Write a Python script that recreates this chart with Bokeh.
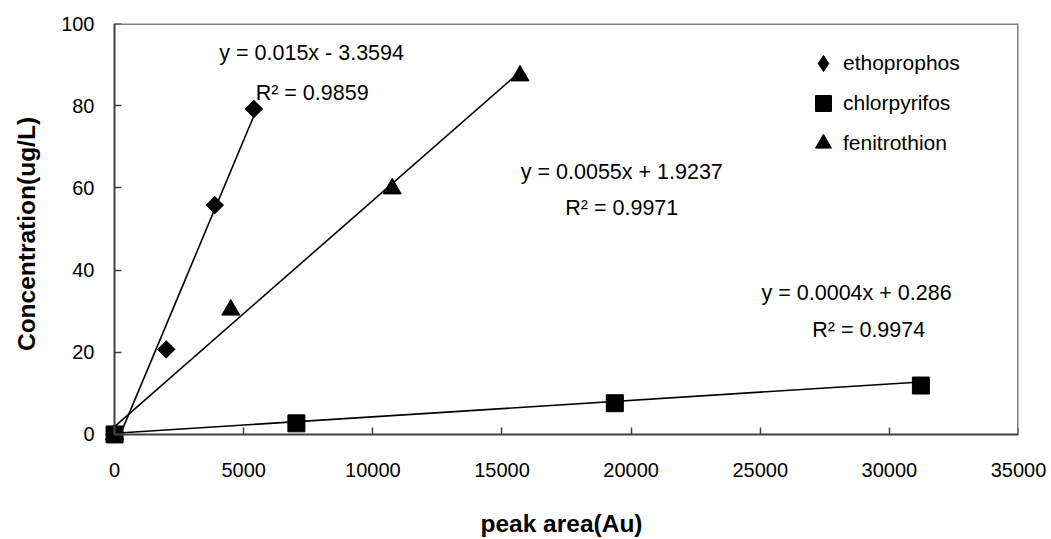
import numpy as np
from bokeh.plotting import figure
from bokeh.models import (Range1d, SingleIntervalTicker, Legend, LegendItem, ColumnDataSource,
                          LinearAxis, CustomJSTickFormatter)
from bokeh.core.properties import value
from bokeh.embed import file_html
from bokeh.resources import INLINE

# ---- data ----
series_names = ["ethoprophos", "chlorpyrifos", "fenitrothion"]
etho_x = [0, 2000, 3880, 5395]
etho_y = [0, 20.7, 55.8, 79.2]
chlor_x = [0, 7040, 19370, 31220]
chlor_y = [0, 2.7, 7.6, 11.9]
feni_x = [0, 4500, 10750, 15700]
feni_y = [0, 30.3, 59.8, 87.3]

# trendline equations shown on the chart (slope, intercept)
etho_fit = (0.015, -3.3594)
chlor_fit = (0.0004, 0.286)
feni_fit = (0.0055, 1.9237)

eq_texts = ["y = 0.015x - 3.3594", "R² = 0.9859",
            "y = 0.0055x + 1.9237", "R² = 0.9971",
            "y = 0.0004x + 0.286", "R² = 0.9974"]
eq_x = [7630, 7650, 19640, 19640, 28730, 29200]
eq_y = [92.7, 83.2, 63.8, 55.0, 34.3, 25.3]

# axis limits and ticks
X_MIN, X_MAX, X_STEP = 0, 35000, 5000
Y_MIN, Y_MAX, Y_STEP = 0, 100, 20
X_PAD, Y_PAD = 390, 2.45   # room so the markers at the origin are not cut

FONT = "Liberation Sans"
AXIS_COLOR = "#404040"

p = figure(width=1051, height=539, output_backend="svg", toolbar_location=None,
           x_range=Range1d(X_MIN - X_PAD, X_MAX), y_range=Range1d(Y_MIN - Y_PAD, Y_MAX),
           min_border_left=104, min_border_right=33, min_border_top=23, min_border_bottom=95)
p.xgrid.visible = False
p.ygrid.visible = False
p.outline_line_color = None
p.background_fill_color = "white"
p.border_fill_color = "white"

# label-carrying axes at the frame edges (no lines / ticks)
p.xaxis.ticker = SingleIntervalTicker(interval=X_STEP, num_minor_ticks=0)
p.yaxis.ticker = SingleIntervalTicker(interval=Y_STEP, num_minor_ticks=0)
for ax in (p.xaxis[0], p.yaxis[0]):
    ax.axis_line_color = None
    ax.major_tick_line_color = None
    ax.minor_tick_line_color = None
    ax.major_tick_in = 0
    ax.major_tick_out = 0
    ax.major_label_text_font = FONT
    ax.major_label_text_font_size = "20px"
    ax.major_label_text_color = "black"
    ax.axis_label_text_font = FONT
    ax.axis_label_text_font_style = "bold"
    ax.axis_label_text_font_size = "24.5px"
    ax.axis_label_text_color = "black"
p.xaxis.axis_label = "peak area(Au)"
p.yaxis.axis_label = "Concentration(ug/L)"
p.xaxis.major_label_standoff = 18
p.xaxis.axis_label_standoff = 30
p.yaxis.major_label_standoff = 10
p.yaxis.axis_label_standoff = 18

# axis lines with inside ticks, placed exactly at zero
blank = CustomJSTickFormatter(code="return ''")
for side, step, loc, bnd in (("below", X_STEP, Y_MIN, (X_MIN, X_MAX)),
                             ("left", Y_STEP, X_MIN, (Y_MIN, Y_MAX))):
    ax = LinearAxis(fixed_location=loc, bounds=bnd,
                    ticker=SingleIntervalTicker(interval=step, num_minor_ticks=0),
                    formatter=blank, axis_line_color=AXIS_COLOR, axis_line_width=2,
                    major_tick_in=7, major_tick_out=0, major_tick_line_color=AXIS_COLOR,
                    major_tick_line_width=1.5, minor_tick_line_color=None,
                    major_label_standoff=0)
    p.add_layout(ax, side)

# plot-area border (top and right)
p.line([X_MIN, X_MAX], [Y_MAX, Y_MAX], line_color="#808080", line_width=3)
p.line([X_MAX, X_MAX], [Y_MIN, Y_MAX], line_color="#808080", line_width=3)

# trendlines
def trend(xs, fit):
    xx = np.array([min(xs), max(xs)], dtype=float)
    yy = fit[0] * xx + fit[1]
    if yy[0] < Y_MIN:  # the chart clips the trendline at the axis
        xx[0] = (Y_MIN - fit[1]) / fit[0]
        yy[0] = Y_MIN
    return xx, yy

for xs, fit in ((etho_x, etho_fit), (chlor_x, chlor_fit), (feni_x, feni_fit)):
    tx, ty = trend(xs, fit)
    p.line(tx, ty, line_color="black", line_width=1.6)

# markers
r_feni = p.scatter(feni_x, feni_y, marker="triangle", size=18, fill_color="black", line_color="black")
r_etho = p.scatter(etho_x, etho_y, marker="diamond", size=16.5, fill_color="black", line_color="black")
p.scatter(etho_x, etho_y, marker="square", size=12.3, angle=np.pi / 4, fill_color="black", line_color="black")
r_chlor = p.scatter(chlor_x, chlor_y, marker="square", size=17, fill_color="black", line_color="black")

# equation labels
src = ColumnDataSource(dict(x=eq_x, y=eq_y, t=eq_texts))
p.text(x="x", y="y", text="t", source=src, text_font=value(FONT), text_font_size="21.5px",
       text_align="center", text_baseline="middle", text_color="black")

legend = Legend(items=[LegendItem(label=series_names[0], renderers=[r_etho]),
                       LegendItem(label=series_names[1], renderers=[r_chlor]),
                       LegendItem(label=series_names[2], renderers=[r_feni])],
                location=(699, 281), orientation="vertical")
legend.glyph_width = 40
legend.glyph_height = 40
legend.spacing = 0
legend.padding = 0
legend.margin = 0
legend.label_standoff = -7
legend.label_text_font = FONT
legend.label_text_font_size = "21px"
legend.label_text_color = "black"
legend.border_line_color = None
legend.background_fill_alpha = 0
p.add_layout(legend)

open("out.html", "w").write(file_html(p, INLINE))
